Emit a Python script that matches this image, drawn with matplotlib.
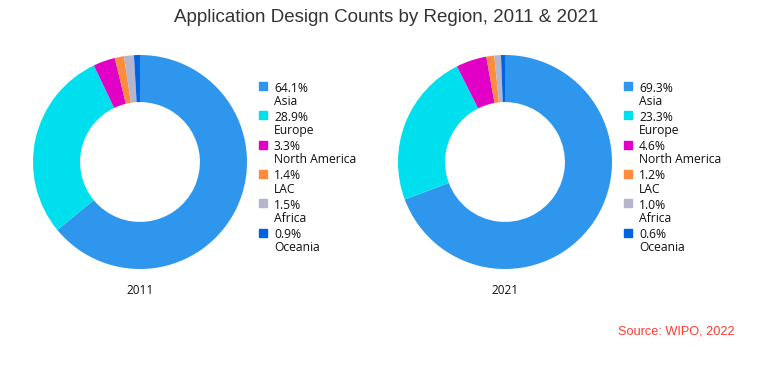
import matplotlib.pyplot as plt
from matplotlib.patches import Rectangle

regions = ['Asia', 'Europe', 'North America', 'LAC', 'Africa', 'Oceania']
share_2011 = [64.1, 28.9, 3.3, 1.4, 1.5, 0.9]
share_2021 = [69.3, 23.3, 4.6, 1.2, 1.0, 0.6]
years = ['2011', '2021']
colors = ['#2f96ee', '#00dfee', '#e300c6', '#ff8b3d', '#b5b5cb', '#0063df']

W, H = 772, 376
fig = plt.figure(figsize=(W / 100, H / 100), dpi=100)

def px(x, y):
    # pixel coords (top-left origin) -> figure fraction
    return x / W, 1 - y / H

fig.text(*px(386, 17), 'Application Design Counts by Region, 2011 & 2021',
         ha='center', va='center', fontsize=13.5, color='#333333',
         family='Liberation Sans')

for k, (year, vals) in enumerate(zip(years, [share_2011, share_2021])):
    cx, cy, r = 140 + 365 * k, 162, 107
    ax = fig.add_axes([(cx - r) / W, (H - cy - r) / H, 2 * r / W, 2 * r / H])
    ax.pie(vals, colors=colors, startangle=90, counterclock=False,
           wedgeprops=dict(width=0.44, linewidth=0))
    ax.set_xlim(-1, 1)
    ax.set_ylim(-1, 1)
    ax.set_aspect('equal')
    ax.axis('off')

    fig.text(*px(cx, 290), year, ha='center', va='center', fontsize=8.5,
             family='Open Sans', color='#111111')

    lx = 259 + 365 * k
    for i, (name, v) in enumerate(zip(regions, vals)):
        y0 = 82 + 29.3 * i
        fx, fy = px(lx, y0 + 8)
        fig.add_artist(Rectangle((fx, fy), 8 / W, 8 / H, color=colors[i],
                                 transform=fig.transFigure))
        fig.text(*px(lx + 15, y0 + 9.5), f'{v}%', ha='left', va='baseline',
                 fontsize=8.7, family='Open Sans', color='#111111')
        fig.text(*px(lx + 15, y0 + 22.8), name, ha='left', va='baseline',
                 fontsize=8.7, family='Open Sans', color='#111111')

fig.text(*px(735, 332), 'Source: WIPO, 2022', ha='right', va='center',
         fontsize=9.2, color='#ff3b30', family='Liberation Sans')

fig.savefig('out.png', dpi=100)
